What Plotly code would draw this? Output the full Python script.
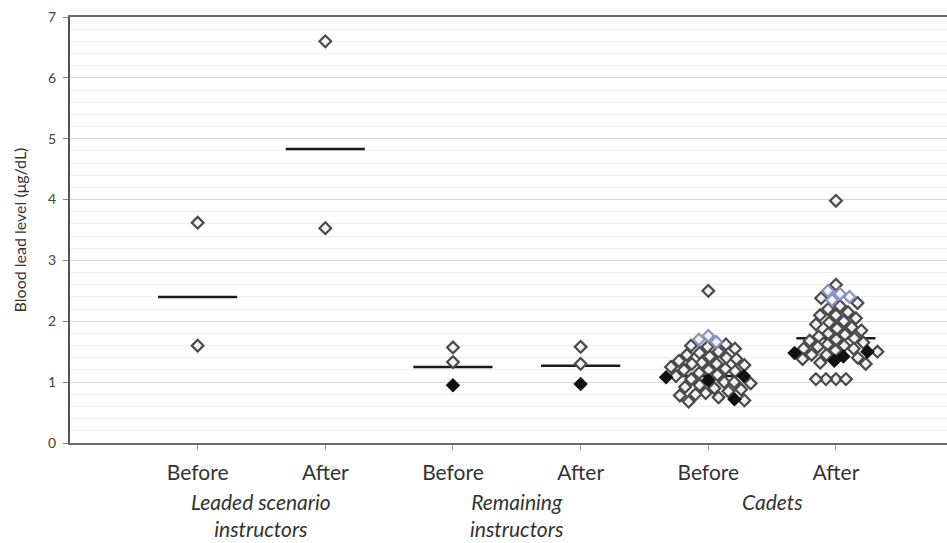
import math
import plotly.graph_objects as go

# ---------------- data ----------------
categories = ["Before", "After", "Before", "After", "Before", "After"]
group_labels = ["Leaded scenario<br>instructors", "Remaining<br>instructors", "Cadets"]

leaded_before = [3.62, 1.60]
leaded_before_kind = ["o", "o"]
leaded_after = [6.60, 3.53]
leaded_after_kind = ["o", "o"]

remaining_before = [1.57, 1.33, 0.95]
remaining_before_kind = ["o", "o", "f"]
remaining_after = [1.58, 1.30, 0.97]
remaining_after_kind = ["o", "o", "f"]

cadets_before = [2.50, 1.76, 1.70, 1.66, 1.62, 1.60, 1.58, 1.55, 1.50, 1.48,
                 1.45, 1.42, 1.40, 1.38, 1.35, 1.32, 1.30, 1.30, 1.28, 1.25,
                 1.22, 1.20, 1.20, 1.18, 1.15, 1.12, 1.10, 1.10, 1.08, 1.05,
                 1.03, 1.00, 1.00, 0.98, 0.95, 0.92, 0.90, 0.88, 0.85, 0.82,
                 0.80, 0.78, 0.75, 0.72, 0.70, 0.68]
cadets_before_kind = ["o", "b", "b", "b", "o", "o", "o", "o", "o", "o",
                      "o", "o", "o", "o", "o", "o", "o", "o", "o", "o",
                      "o", "o", "o", "o", "o", "o", "o", "f", "f", "o",
                      "f", "o", "o", "o", "o", "o", "o", "o", "o", "o",
                      "o", "o", "o", "f", "o", "o"]

cadets_after = [3.98, 2.60, 2.50, 2.45, 2.40, 2.38, 2.35, 2.30, 2.25, 2.20,
                2.15, 2.10, 2.10, 2.05, 2.00, 1.98, 1.95, 1.90, 1.88, 1.85,
                1.80, 1.78, 1.75, 1.72, 1.70, 1.68, 1.65, 1.62, 1.60, 1.58,
                1.55, 1.55, 1.52, 1.50, 1.50, 1.48, 1.45, 1.45, 1.42, 1.40,
                1.38, 1.35, 1.32, 1.30, 1.05, 1.05, 1.05, 1.05]
cadets_after_kind = ["o", "o", "b", "b", "b", "o", "b", "o", "o", "o",
                     "o", "o", "o", "o", "o", "o", "o", "o", "o", "o",
                     "o", "o", "o", "o", "o", "o", "o", "o", "o", "o",
                     "o", "o", "o", "f", "o", "f", "o", "o", "f", "o",
                     "o", "f", "o", "o", "o", "o", "o", "o"]

geo_means = [2.40, 4.83, 1.25, 1.27, 1.10, 1.72]

groups = [
    (leaded_before, leaded_before_kind),
    (leaded_after, leaded_after_kind),
    (remaining_before, remaining_before_kind),
    (remaining_after, remaining_after_kind),
    (cadets_before, cadets_before_kind),
    (cadets_after, cadets_after_kind),
]

# ---------------- layout helpers ----------------
W, H = 947, 543
ML, MT, MB, MR = 70, 17, 100, 0
XMAX = 6.87
YMAX = 7.0
px_x = (W - ML - MR) / XMAX
px_y = (H - MT - MB) / YMAX
DIAM = 10.0  # collision diameter in px


def swarm(values):
    """Deterministic beeswarm offsets (in x-data units)."""
    order = sorted(range(len(values)), key=lambda i: -values[i])
    placed = []
    offs = [0.0] * len(values)
    for i in order:
        y = values[i] * px_y
        cands = [0.0]
        for (xj, yj) in placed:
            dy = abs(y - yj)
            if dy < DIAM:
                dx = math.sqrt(DIAM ** 2 - dy ** 2)
                cands += [xj + dx + 0.01, xj - dx - 0.01]
        cands.sort(key=lambda c: (abs(c), c))
        c = 0.0
        for c in cands:
            ok = True
            for (xj, yj) in placed:
                if (c - xj) ** 2 + (y - yj) ** 2 < DIAM ** 2 - 1e-6:
                    ok = False
                    break
            if ok:
                break
        placed.append((c, y))
        offs[i] = c / px_x
    return offs


styles = {
    "o": dict(color="#f2f2f2", line=dict(color="#4a4a4a", width=2.2)),
    "b": dict(color="#f2f2f2", line=dict(color="#8a92c2", width=2.2)),
    "f": dict(color="#111111", line=dict(color="#111111", width=2)),
}

fig = go.Figure()

# mean lines
lx, ly = [], []
half = 0.31
for i, m in enumerate(geo_means):
    xc = i + 1
    lx += [xc - half, xc + half, None]
    ly += [m, m, None]
fig.add_trace(go.Scatter(x=lx, y=ly, mode="lines",
                         line=dict(color="#1a1a1a", width=2.5),
                         hoverinfo="skip", showlegend=False))

# points
for kind in ["o", "b", "f"]:
    xs, ys = [], []
    for gi, (vals, kinds) in enumerate(groups):
        offs = swarm(vals)
        for v, k, o in zip(vals, kinds, offs):
            if k == kind:
                xs.append(gi + 1 + o)
                ys.append(v)
    fig.add_trace(go.Scatter(x=xs, y=ys, mode="markers",
                             marker=dict(symbol="diamond", size=9, **styles[kind]),
                             showlegend=False))

# group labels
for gi, lab in enumerate(group_labels):
    fig.add_annotation(x=gi * 2 + 1.5, xref="x", y=-0.104, yref="paper",
                       text=lab, showarrow=False, yanchor="top",
                       font=dict(family="Lato", size=21, color="#333333",
                                 style="italic"))

fig.update_layout(
    width=W, height=H,
    margin=dict(l=ML, r=MR, t=MT, b=MB, pad=0),
    paper_bgcolor="white", plot_bgcolor="white",
    font=dict(family="Lato", color="#333333"),
    xaxis=dict(range=[0, XMAX], tickmode="array",
               tickvals=[1, 2, 3, 4, 5, 6], ticktext=categories,
               showgrid=False, zeroline=False,
               showline=True, linecolor="#6a6a6a", linewidth=2, mirror=True,
               ticks="outside", ticklen=5, tickcolor="#999999", tickwidth=1,
               tickfont=dict(size=21, color="#333333"),
               ticklabelstandoff=5),
    yaxis=dict(range=[0, YMAX], dtick=1, tick0=0,
               showgrid=True, gridcolor="#d6d6d6", gridwidth=1,
               minor=dict(dtick=0.2, showgrid=True, gridcolor="#efefef",
                          gridwidth=1),
               zeroline=False, showline=True, linecolor="#555555", linewidth=2,
               ticks="outside", ticklen=5, tickcolor="#888888",
               tickfont=dict(size=14, color="#444444"),
               ticklabelstandoff=4,
               title=dict(text="Blood lead level (μg/dL)",
                          font=dict(size=16, color="#333333"), standoff=17)),
)

fig.write_html("out.html")
